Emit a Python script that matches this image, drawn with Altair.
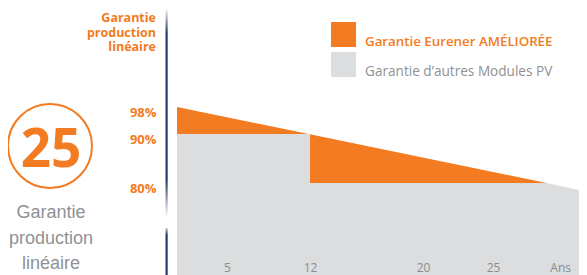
import altair as alt
import pandas as pd

# ---- data ----
eurener_years = [0, 29]
eurener_pct = [98, 80]
autres_years = [0, 29, 32]
autres_pct = [80, 80, 78.1]
autres_step_years = [0, 12]
autres_step_pct = [90]
baseline_pct = [60]
x_tick_years = [5, 12, 20, 25, 30]
x_tick_labels = ["5", "12", "20", "25", "Ans"]
y_ticks = [98, 90, 80]
legend_labels = ["Garantie Eurener AMÉLIORÉE", "Garantie d’autres Modules PV"]
axis_title_lines = ["Garantie", "production", "linéaire"]
caption_lines = ["Garantie", "production", "linéaire"]
big_number = "25"

ORANGE = "#f37b21"
GRAY = "#dcdddf"
GRAY_TXT = "#8f9194"
NAVY = "#24386b"
FONT = "Open Sans"

BASE = baseline_pct[0]

df_e = pd.DataFrame({"year": eurener_years, "pct": eurener_pct})
df_a = pd.DataFrame({"year": autres_years, "pct": autres_pct})
df_s = pd.DataFrame({"y0": [autres_step_years[0]], "y1": [autres_step_years[1]], "pct": autres_step_pct})
dummy = pd.DataFrame({"a": [0]})

label_expr = " : ".join(f"datum.value == {v} ? '{l}'" for v, l in zip(x_tick_years, x_tick_labels)) + " : ''"

xs = alt.Scale(domain=[0, 5, 12, 20, 25, 32], range=[0, 50, 133, 246, 316, 410], nice=False, zero=False)
ys = alt.Scale(domain=[60, 80, 90, 98], range=[263, 171, 122, 95], nice=False, zero=False)

xaxis = alt.Axis(values=x_tick_years, labelExpr=label_expr, domain=False, ticks=False,
                 tickSize=0, grid=False, title=None, labelPadding=-4, labelBaseline="alphabetic",
                 labelColor="#8a8c8f", labelFont=FONT, labelFontSize=12, labelFlush=False,
                 labelOverlap=False, labelBound=False, zindex=2)
yaxis = alt.Axis(values=y_ticks, labelExpr="datum.value + '%'", domain=False, ticks=False, tickSize=0,
                 grid=False, title=None, labelPadding=21, labelOffset=5, labelColor=ORANGE, labelFont=FONT,
                 labelFontSize=13, labelFontWeight="bold", labelOverlap=False, zindex=2)


def X(field):
    return alt.X(field, type="quantitative", scale=xs, axis=xaxis)


def Y(field):
    return alt.Y(field, type="quantitative", scale=ys, axis=yaxis)


orange = alt.Chart(df_e).mark_area(color=ORANGE, opacity=1).encode(x=X("year"), y=Y("pct"), y2=alt.datum(BASE))
gray_area = alt.Chart(df_a).mark_area(color=GRAY, opacity=1).encode(x=X("year"), y=Y("pct"), y2=alt.datum(BASE))
gray_step = alt.Chart(df_s).mark_rect(color=GRAY, opacity=1).encode(x=X("y0"), x2="y1", y=Y("pct"), y2=alt.datum(BASE))

layers = [orange, gray_area, gray_step]

# axis bar with faded ends
grad1 = alt.LinearGradient(gradient="linear", x1=0, y1=0, x2=0, y2=1, stops=[
    alt.GradientStop(offset=0, color="#ffffff"), alt.GradientStop(offset=0.12, color=NAVY),
    alt.GradientStop(offset=0.82, color=NAVY), alt.GradientStop(offset=1, color="#ffffff")])
grad2 = alt.LinearGradient(gradient="linear", x1=0, y1=0, x2=0, y2=1, stops=[
    alt.GradientStop(offset=0, color="#c8cdd9"), alt.GradientStop(offset=0.15, color=NAVY),
    alt.GradientStop(offset=1, color=NAVY)])
layers.append(alt.Chart(dummy).mark_rect(color=grad1).encode(
    x=alt.value(-11.5), x2=alt.value(-9.3), y=alt.value(-4), y2=alt.value(205)))
layers.append(alt.Chart(dummy).mark_rect(color=grad2).encode(
    x=alt.value(-11.5), x2=alt.value(-9.3), y=alt.value(216), y2=alt.value(263)))

# axis title (top left, orange), one multi-line text
layers.append(alt.Chart(dummy).mark_text(align="right", baseline="alphabetic", font=FONT, fontSize=12.5,
                                         fontWeight="bold", color=ORANGE, lineBreak="\n", lineHeight=14.5).encode(
    x=alt.value(-21), y=alt.value(10), text=alt.value("\n".join(axis_title_lines))))

# big "25" in a circle
layers.append(alt.Chart(dummy).mark_point(shape="circle", size=84 * 84, filled=False, strokeWidth=2,
                                          color=ORANGE, opacity=1).encode(x=alt.value(-127), y=alt.value(134)))
layers.append(alt.Chart(dummy).mark_text(align="center", baseline="alphabetic", font="Noto Sans", fontSize=53,
                                         fontWeight="bold", color=ORANGE).encode(
    x=alt.value(-126), y=alt.value(155), text=alt.value(big_number)))

# gray caption
layers.append(alt.Chart(dummy).mark_text(align="center", baseline="alphabetic", font="Liberation Sans",
                                         fontSize=18, color=GRAY_TXT, lineBreak="\n", lineHeight=25.5).encode(
    x=alt.value(-126), y=alt.value(206), text=alt.value("\n".join(caption_lines))))

# legend
leg_colors = [ORANGE, GRAY]
leg_txt_colors = [ORANGE, GRAY_TXT]
leg_sizes = [13.3, 13.6]
for i, (lab, c, tc, fs) in enumerate(zip(legend_labels, leg_colors, leg_txt_colors, leg_sizes)):
    top = 10 + 30 * i
    layers.append(alt.Chart(dummy).mark_rect(color=c).encode(
        x=alt.value(154), x2=alt.value(179), y=alt.value(top), y2=alt.value(top + 25)))
    layers.append(alt.Chart(dummy).mark_text(align="left", baseline="alphabetic", font=FONT, fontSize=fs,
                                             fontWeight=600 if i == 0 else 500, color=tc).encode(
        x=alt.value(188), y=alt.value(top + 24), text=alt.value(lab)))

chart = alt.layer(*layers).properties(
    width=402, height=263,
    autosize=alt.AutoSizeParams(type="none"),
    padding={"left": 169, "top": 4, "right": 0, "bottom": 0},
    background="white",
).configure_view(stroke=None)

chart.save("out.html", embed_options={"renderer": "svg", "actions": False})
